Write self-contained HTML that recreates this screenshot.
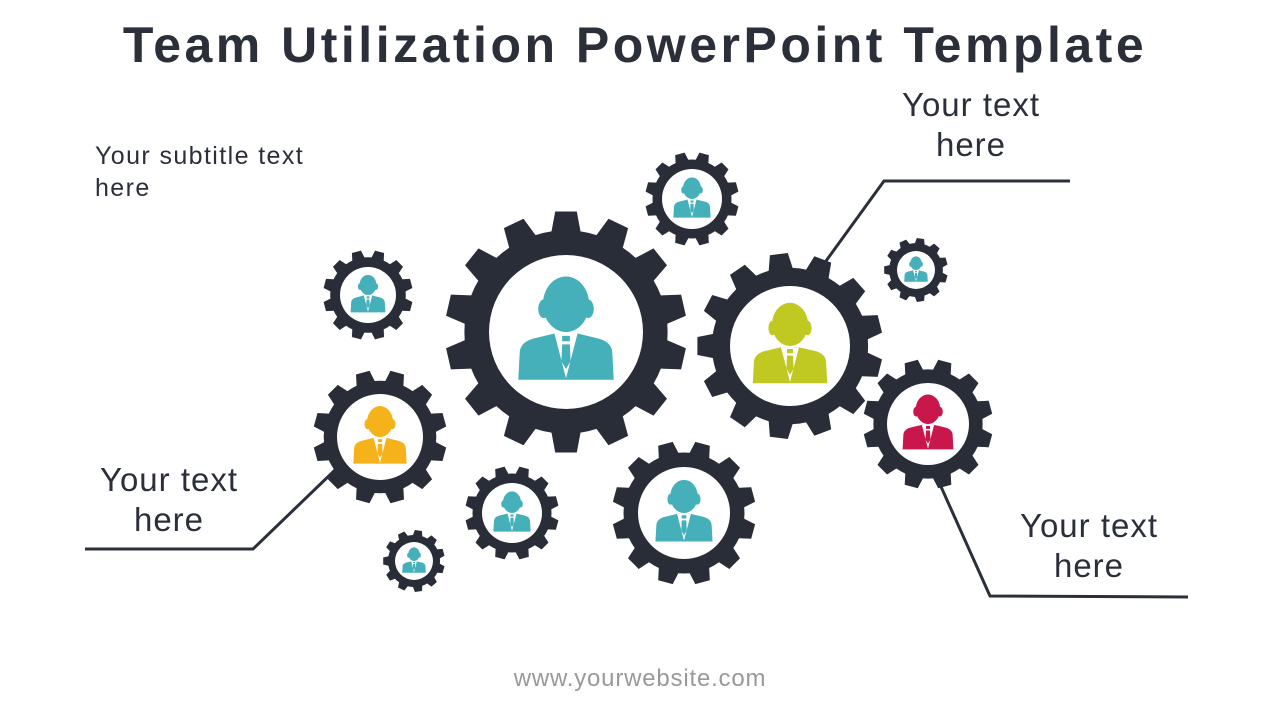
<!DOCTYPE html>
<html><head><meta charset="utf-8"><style>
html,body{margin:0;padding:0;background:#fff;}
body{width:1280px;height:720px;position:relative;overflow:hidden;font-family:"Liberation Sans","DejaVu Sans",sans-serif;color:#2a2f3a;}
.t{position:absolute;white-space:nowrap;}
</style></head><body>
<div class="t" style="left:0;width:1270px;text-align:center;top:16px;font-size:50px;font-weight:bold;letter-spacing:3.5px;">Team Utilization PowerPoint Template</div>
<div class="t" style="left:95px;top:140px;font-size:25px;line-height:32px;letter-spacing:1.4px;">Your subtitle text<br>here</div>
<div class="t" style="left:870px;width:202px;text-align:center;top:85px;font-size:33px;line-height:40px;letter-spacing:1px;">Your text<br>here</div>
<div class="t" style="left:68px;width:202px;text-align:center;top:460px;font-size:33px;line-height:40px;letter-spacing:1px;">Your text<br>here</div>
<div class="t" style="left:988px;width:202px;text-align:center;top:506px;font-size:33px;line-height:40px;letter-spacing:1px;">Your text<br>here</div>
<div class="t" style="left:0;width:1280px;text-align:center;top:665px;font-size:24px;color:#999;letter-spacing:0.8px;">www.yourwebsite.com</div>
<svg id="s" width="1280" height="720" style="position:absolute;left:0;top:0" xmlns="http://www.w3.org/2000/svg">
<polyline points="818,272 884,181 1070,181" fill="none" stroke="#2a2f3a" stroke-width="3"/>
<polyline points="335,470 253,549 85,549" fill="none" stroke="#2a2f3a" stroke-width="3"/>
<polyline points="938,480 990,596 1188,597" fill="none" stroke="#2a2f3a" stroke-width="3"/>
</svg>
<script>
var s=document.getElementById('s'),NS='http://www.w3.org/2000/svg';
function el(t,a){var e=document.createElementNS(NS,t);for(var k in a)e.setAttribute(k,a[k]);s.appendChild(e);return e;}
function gear(cx,cy,R,r,col,n){
 var body=R*0.84,d='';n=n||12;
 for(var i=0;i<n;i++){
  var a0=2*Math.PI*i/n,st=2*Math.PI/n;
  var pts=[[body,a0],[body,a0+st*0.18],[R,a0+st*0.3],[R,a0+st*0.7],[body,a0+st*0.82]];
  pts.forEach(function(p,j){var x=cx+p[0]*Math.cos(p[1]),y=cy+p[0]*Math.sin(p[1]);d+=(i==0&&j==0?'M':'L')+x.toFixed(1)+' '+y.toFixed(1)+' ';});
 }
 el('path',{d:d+'Z',fill:'#282d38'});
 el('circle',{cx:cx,cy:cy,r:r,fill:'#fff'});
 var g=el('g',{transform:'translate('+cx+','+cy+') scale('+r+')'});
 function c(t,a){var e=document.createElementNS(NS,t);for(var k in a)e.setAttribute(k,a[k]);g.appendChild(e);}
 c('path',{d:'M-0.62 0.62 L-0.6 0.25 Q-0.58 0.12 -0.4 0.08 L-0.15 0.02 L0.15 0.02 L0.4 0.08 Q0.58 0.12 0.6 0.25 L0.62 0.62 Z',fill:col});
 c('ellipse',{cx:0,cy:-0.36,rx:0.3,ry:0.36,fill:col});
 c('ellipse',{cx:-0.29,cy:-0.3,rx:0.07,ry:0.12,fill:col});
 c('ellipse',{cx:0.29,cy:-0.3,rx:0.07,ry:0.12,fill:col});
 c('path',{d:'M-0.15 0.02 L0 0.6 L0.15 0.02 Z',fill:'#fff'});
 c('path',{d:'M-0.05 0.05 L0.05 0.05 L0.05 0.12 L-0.05 0.12 Z M-0.05 0.16 L0.05 0.16 L0.06 0.38 L0 0.48 L-0.06 0.38 Z',fill:col});
}
var teal='#45b0b9';
gear(566,332,121,77,teal,14);
gear(790,346,93,60,'#c0c822',13);
gear(692,199,47,30,teal,12);
gear(916,270,32,19,teal,11);
gear(368,295,45,28,teal,12);
gear(380,437,67,43,'#f5b21b',12);
gear(928,424,65,41,'#c8174a',12);
gear(684,513,72,46,teal,12);
gear(512,513,47,30,teal,12);
gear(414,561,31,19,teal,11);
</script>
</body></html>
